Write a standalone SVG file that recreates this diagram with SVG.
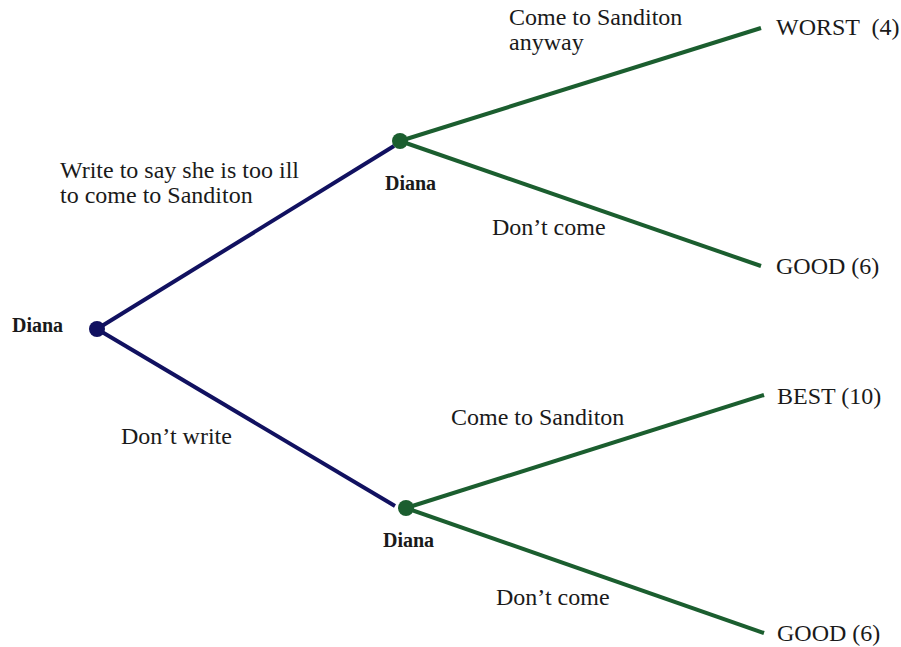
<svg xmlns="http://www.w3.org/2000/svg" width="901" height="647" viewBox="0 0 901 647">
<style>
.t{font-family:"Liberation Serif","Times New Roman",serif;font-size:24px;fill:#1a1a1a}
.b{font-family:"Liberation Serif","Times New Roman",serif;font-size:20px;font-weight:bold;fill:#1a1a1a}
.n{stroke:#111160;stroke-width:4;fill:none;stroke-linecap:butt}
.g{stroke:#1b5e2f;stroke-width:4;fill:none}
</style>
<rect width="901" height="647" fill="#ffffff"/>
<g id="connectors">
<line class="n" x1="97" y1="329" x2="394" y2="146"/>
<line class="n" x1="97" y1="329" x2="395" y2="506"/>
<line class="g" x1="400" y1="141" x2="761" y2="28"/>
<line class="g" x1="400" y1="141" x2="761" y2="266"/>
<line class="g" x1="406" y1="508" x2="764" y2="395"/>
<line class="g" x1="406" y1="508" x2="764" y2="633"/>
</g>
<g id="labels">
<text class="t" x="60" y="178">Write to say she is too ill</text>
<text class="t" x="60" y="203">to come to Sanditon</text>
<text class="t" x="121" y="444">Don’t write</text>
<text class="t" x="509" y="25">Come to Sanditon</text>
<text class="t" x="509" y="50">anyway</text>
<text class="t" x="492" y="235">Don’t come</text>
<text class="t" x="451" y="425">Come to Sanditon</text>
<text class="t" x="496" y="605">Don’t come</text>
</g>
<g id="root">
<circle cx="97" cy="329" r="8" fill="#111160"/>
<text class="b" x="12" y="332">Diana</text>
</g>
<g id="diana-top">
<circle cx="400" cy="141" r="8" fill="#1b5e2f"/>
<text class="b" x="385" y="190">Diana</text>
</g>
<g id="diana-bottom">
<circle cx="406" cy="508" r="8" fill="#1b5e2f"/>
<text class="b" x="383" y="547">Diana</text>
</g>
<g id="worst"><text class="t" x="776" y="35" xml:space="preserve">WORST  (4)</text></g>
<g id="good1"><text class="t" x="776" y="274">GOOD (6)</text></g>
<g id="best"><text class="t" x="777" y="404">BEST (10)</text></g>
<g id="good2"><text class="t" x="777" y="641">GOOD (6)</text></g>
</svg>
